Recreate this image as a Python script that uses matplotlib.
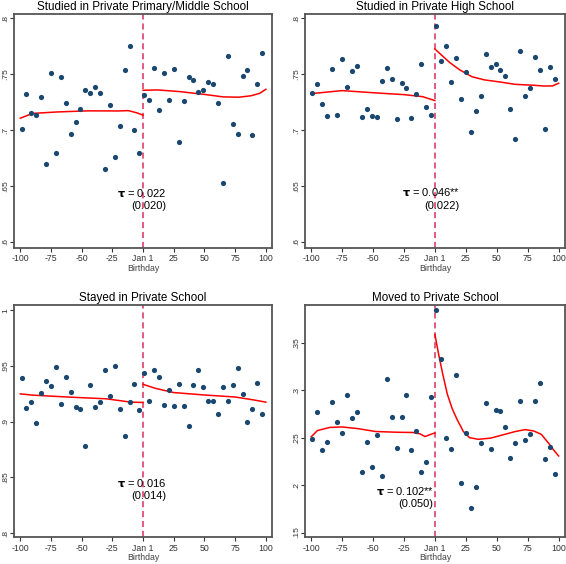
import numpy as np
import matplotlib
matplotlib.use("Agg")
import matplotlib.pyplot as plt

plt.rcParams['font.family'] = ['Liberation Sans', 'DejaVu Sans']

# bin centres (days from Jan 1)
x_left = list(range(-99, 0, 4))
x_right = list(range(1, 100, 4))

titles = ["Studied in Private Primary/Middle School", "Studied in Private High School",
          "Stayed in Private School", "Moved to Private School"]

# panel 1
p1_left = [0.7009, 0.7327, 0.7158, 0.7137, 0.7301, 0.6696, 0.7515, 0.6795, 0.7473, 0.7247,
           0.6964, 0.7071, 0.7187, 0.7360, 0.7333, 0.7384, 0.7330, 0.6655, 0.7226, 0.6762,
           0.7033, 0.7539, 0.7750, 0.7000, 0.6792]
p1_right = [0.7313, 0.7271, 0.7560, 0.7179, 0.7509, 0.7274, 0.7545, 0.6896, 0.7259, 0.7473,
            0.7449, 0.7342, 0.7357, 0.7435, 0.7411, 0.7244, 0.6530, 0.7664, 0.7051, 0.6967,
            0.7482, 0.7536, 0.6955, 0.7417, 0.7693]
p1_fit_lx = [-100, -90, -70, -45, -20, -12, -5, 0]
p1_fit_ly = [0.7107, 0.7150, 0.7163, 0.7173, 0.7172, 0.7175, 0.7155, 0.7134]
p1_fit_rx = [0, 12, 30, 50, 65, 78, 88, 95, 100]
p1_fit_ry = [0.7357, 0.7360, 0.7345, 0.7320, 0.7298, 0.7295, 0.7308, 0.7330, 0.7366]

# panel 2
p2_left = [0.7330, 0.7417, 0.7238, 0.7131, 0.7545, 0.7137, 0.7634, 0.7384, 0.7530, 0.7571,
           0.7116, 0.7185, 0.7128, 0.7122, 0.7440, 0.7554, 0.7461, 0.7101, 0.7423, 0.7378,
           0.7113, 0.7324, 0.7589, 0.7211, 0.7137]
p2_right = [0.7932, 0.7616, 0.7756, 0.7432, 0.7649, 0.7280, 0.7521, 0.6982, 0.7170, 0.7304,
            0.7685, 0.7568, 0.7589, 0.7542, 0.7482, 0.7190, 0.6923, 0.7705, 0.7304, 0.7378,
            0.7658, 0.7536, 0.7015, 0.7565, 0.7461]
p2_fit_lx = [-100, -75, -50, -25, -10, 0]
p2_fit_ly = [0.7327, 0.7354, 0.7335, 0.7318, 0.7300, 0.7265]
p2_fit_rx = [0, 6, 12, 20, 30, 40, 52, 65, 80, 88, 95, 100]
p2_fit_ry = [0.7726, 0.7665, 0.7605, 0.7540, 0.7478, 0.7450, 0.7432, 0.7410, 0.7402, 0.7395, 0.7396, 0.7420]

# panel 3
p3_left = [0.9390, 0.9123, 0.9179, 0.8993, 0.9259, 0.9363, 0.9321, 0.9496, 0.9161, 0.9399,
           0.9268, 0.9132, 0.9114, 0.8782, 0.9333, 0.9129, 0.9179, 0.9461, 0.9230, 0.9499,
           0.9117, 0.8874, 0.9176, 0.9342, 0.9108]
p3_right = [0.9440, 0.9188, 0.9464, 0.9399, 0.9153, 0.9289, 0.9141, 0.9339, 0.9141, 0.8960,
            0.9330, 0.9464, 0.9313, 0.9188, 0.9188, 0.9067, 0.9316, 0.9182, 0.9327, 0.9484,
            0.9250, 0.8999, 0.9117, 0.9351, 0.9073]
p3_fit_lx = [-100, -90, -60, -30, -10, 0]
p3_fit_ly = [0.9250, 0.9239, 0.9221, 0.9206, 0.9176, 0.9173]
p3_fit_rx = [0, 10, 25, 50, 75, 90, 100]
p3_fit_ry = [0.9336, 0.9300, 0.9262, 0.9240, 0.9222, 0.9196, 0.9176]

# panel 4
p4_left = [0.2481, 0.2770, 0.2373, 0.2457, 0.2881, 0.2669, 0.2550, 0.2947, 0.2710, 0.2773,
           0.2137, 0.2457, 0.2192, 0.2526, 0.2095, 0.3121, 0.2721, 0.2390, 0.2721, 0.2954,
           0.2366, 0.2575, 0.2143, 0.2241, 0.2930]
p4_right = [0.3848, 0.3333, 0.2498, 0.2383, 0.3163, 0.2022, 0.2547, 0.1757, 0.1980, 0.2446,
            0.2870, 0.2377, 0.2794, 0.2783, 0.2617, 0.2290, 0.2446, 0.2884, 0.2474, 0.2540,
            0.2884, 0.3076, 0.2277, 0.2397, 0.2112]
p4_fit_lx = [-100, -95, -85, -75, -62, -48, -30, -18, -12, -8, -4, 0]
p4_fit_ly = [0.2509, 0.2575, 0.2608, 0.2613, 0.2595, 0.2565, 0.2557, 0.2555, 0.2540, 0.2512, 0.2532, 0.2550]
p4_fit_rx = [0, 3, 6, 10, 14, 18, 23, 28, 35, 45, 55, 65, 73, 80, 86, 92, 96, 100]
p4_fit_ry = [0.3587, 0.3380, 0.3190, 0.2960, 0.2805, 0.2690, 0.2565, 0.2500, 0.2483, 0.2495, 0.2530, 0.2565, 0.2585, 0.2570, 0.2535, 0.2440, 0.2370, 0.2307]

taus = [("0.022", "(0.020)"), ("0.046**", "(0.022)"), ("0.016", "(0.014)"), ("0.102**", "(0.050)")]
tau_pos = [(19, 0.6438, 0.6324), (20, 0.6443, 0.6324), (18.6, 0.8450, 0.8332), (-1, 0.1935, 0.1796)]

yticks = [[0.6, 0.65, 0.7, 0.75, 0.8], [0.6, 0.65, 0.7, 0.75, 0.8],
          [0.8, 0.85, 0.9, 0.95, 1.0], [0.15, 0.2, 0.25, 0.3, 0.35]]
ytick_labels = [[".6", ".65", ".7", ".75", ".8"], [".6", ".65", ".7", ".75", ".8"],
                [".8", ".85", ".9", ".95", "1"], [".15", ".2", ".25", ".3", ".35"]]
ylims = [(0.5946, 0.804), (0.5946, 0.804), (0.796, 1.005), (0.1448, 0.390)]
xticks = [-100, -75, -50, -25, 0, 25, 50, 75, 100]
xtick_labels = ["-100", "-75", "-50", "-25", "Jan 1", "25", "50", "75", "100"]

panels = [
    (p1_left, p1_right, p1_fit_lx, p1_fit_ly, p1_fit_rx, p1_fit_ry),
    (p2_left, p2_right, p2_fit_lx, p2_fit_ly, p2_fit_rx, p2_fit_ry),
    (p3_left, p3_right, p3_fit_lx, p3_fit_ly, p3_fit_rx, p3_fit_ry),
    (p4_left, p4_right, p4_fit_lx, p4_fit_ly, p4_fit_rx, p4_fit_ry),
]

# axes rectangles in figure fractions
rects = [(0.025, 0.5603, 0.4556, 0.415), (0.5389, 0.5603, 0.459, 0.415),
         (0.025, 0.047, 0.4556, 0.4125), (0.5389, 0.047, 0.459, 0.4125)]

fig = plt.figure(figsize=(5.66, 5.64), dpi=100)
dot_col = "#1a476f"
for i, (yl, yr, flx, fly, frx, fry) in enumerate(panels):
    ax = fig.add_axes(rects[i])
    ax.scatter(x_left, yl, s=14, color=dot_col, zorder=3, linewidths=0)
    ax.scatter(x_right, yr, s=14, color=dot_col, zorder=3, linewidths=0)
    ax.plot(flx, fly, color="red", lw=1.1, zorder=2)
    ax.plot(frx, fry, color="red", lw=1.1, zorder=2)
    ax.axvline(0, color="#d9305c", lw=1.1, ls=(0, (4, 2.5)), zorder=1)
    ax.set_xlim(-105, 105)
    ax.set_ylim(*ylims[i])
    ax.set_xticks(xticks)
    ax.set_xticklabels(xtick_labels, fontsize=6.3, color="#333333")
    ax.set_yticks(yticks[i])
    ax.set_yticklabels(ytick_labels[i], fontsize=6, color="#333333", rotation=90, va="center")
    ax.tick_params(length=3, width=0.8, pad=1.5, colors="#333333")
    ax.tick_params(axis="y", pad=0.8)
    ax.set_xlabel("Birthday", fontsize=6.3, color="#444444", labelpad=0.5)
    ax.set_title(titles[i], fontsize=8.4, pad=2.5)
    for s in ax.spines.values():
        s.set_linewidth(1.3)
        s.set_color("#555555")
    t1, t2 = taus[i]
    xt, y1, y2 = tau_pos[i]
    ax.text(xt, y1, r"$\mathbf{\tau}$ = " + t1, ha="right", va="center", fontsize=8)
    ax.text(xt, y2, t2, ha="right", va="center", fontsize=8)

fig.savefig("out.png", dpi=100)
